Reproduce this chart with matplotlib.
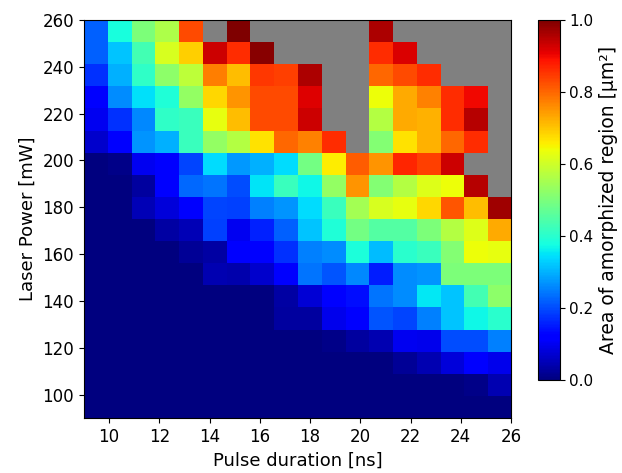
import numpy as np
import matplotlib
matplotlib.use("Agg")
import matplotlib.pyplot as plt

nan = np.nan

# grid extent (pulse duration in ns, laser power in mW)
pulse_range = [9, 26]
power_range = [90, 260]
pulse_ticks = [10, 12, 14, 16, 18, 20, 22, 24, 26]
power_ticks = [100, 120, 140, 160, 180, 200, 220, 240, 260]
cbar_ticks = [0.0, 0.2, 0.4, 0.6, 0.8, 1.0]

# amorphized area [um^2], rows from highest power (top) to lowest, nan = no data
area_rows = [
    [0.22, 0.38, 0.50, 0.56, 0.83, nan, 1.00, nan, nan, nan, nan, nan, 0.96, nan, nan, nan, nan, nan],
    [0.22, 0.32, 0.43, 0.61, 0.69, 0.93, 0.86, 0.99, nan, nan, nan, nan, 0.86, 0.92, nan, nan, nan, nan],
    [0.175, 0.30, 0.41, 0.52, 0.58, 0.775, 0.71, 0.85, 0.84, 0.96, nan, nan, 0.80, 0.83, 0.86, nan, nan, nan],
    [0.12, 0.265, 0.345, 0.39, 0.53, 0.68, 0.75, 0.83, 0.83, 0.915, nan, nan, 0.64, 0.73, 0.77, 0.86, 0.90, nan],
    [0.10, 0.175, 0.26, 0.41, 0.42, 0.63, 0.71, 0.83, 0.83, 0.93, nan, nan, 0.57, 0.73, 0.72, 0.86, 0.95, nan],
    [0.07, 0.12, 0.27, 0.30, 0.42, 0.53, 0.57, 0.67, 0.80, 0.77, 0.86, nan, 0.51, 0.67, 0.72, 0.80, 0.86, nan],
    [0.0, 0.01, 0.10, 0.12, 0.195, 0.34, 0.275, 0.30, 0.34, 0.49, 0.66, 0.81, 0.75, 0.87, 0.84, 0.93, nan, nan],
    [0.0, 0.0, 0.03, 0.12, 0.23, 0.24, 0.20, 0.35, 0.42, 0.37, 0.53, 0.75, 0.51, 0.57, 0.62, 0.64, 0.95, nan],
    [0.0, 0.0, 0.05, 0.08, 0.12, 0.195, 0.19, 0.25, 0.27, 0.34, 0.42, 0.55, 0.61, 0.63, 0.68, 0.82, 0.71, 0.97],
    [0.0, 0.0, 0.0, 0.035, 0.05, 0.19, 0.10, 0.16, 0.22, 0.32, 0.39, 0.49, 0.45, 0.45, 0.50, 0.57, 0.62, 0.73],
    [0.0, 0.0, 0.0, 0.0, 0.02, 0.035, 0.12, 0.12, 0.175, 0.25, 0.265, 0.385, 0.31, 0.40, 0.42, 0.51, 0.64, 0.63],
    [0.0, 0.0, 0.0, 0.0, 0.0, 0.045, 0.04, 0.07, 0.12, 0.24, 0.21, 0.26, 0.155, 0.265, 0.27, 0.50, 0.50, 0.50],
    [0.0, 0.0, 0.0, 0.0, 0.0, 0.0, 0.0, 0.0, 0.035, 0.075, 0.12, 0.14, 0.24, 0.265, 0.355, 0.32, 0.43, 0.52],
    [0.0, 0.0, 0.0, 0.0, 0.0, 0.0, 0.0, 0.0, 0.03, 0.03, 0.095, 0.12, 0.21, 0.195, 0.25, 0.32, 0.37, 0.40],
    [0.0, 0.0, 0.0, 0.0, 0.0, 0.0, 0.0, 0.0, 0.0, 0.0, 0.01, 0.03, 0.045, 0.10, 0.095, 0.20, 0.20, 0.25],
    [0.0, 0.0, 0.0, 0.0, 0.0, 0.0, 0.0, 0.0, 0.0, 0.0, 0.0, 0.0, 0.0, 0.02, 0.045, 0.08, 0.12, 0.095],
    [0.0, 0.0, 0.0, 0.0, 0.0, 0.0, 0.0, 0.0, 0.0, 0.0, 0.0, 0.0, 0.0, 0.0, 0.0, 0.0, 0.01, 0.045],
    [0.0, 0.0, 0.0, 0.0, 0.0, 0.0, 0.0, 0.0, 0.0, 0.0, 0.0, 0.0, 0.0, 0.0, 0.0, 0.0, 0.0, 0.0],
]

fig = plt.figure(figsize=(6.22, 4.73), dpi=100)
ax = fig.add_axes([0.135, 0.1163, 0.6865, 0.8414])
cax = fig.add_axes([0.865, 0.1966, 0.0346, 0.761])

cmap = plt.get_cmap("jet").copy()
cmap.set_bad("gray")

data = np.ma.masked_invalid(np.array(area_rows))
im = ax.imshow(data, cmap=cmap, vmin=0, vmax=1, aspect="auto",
               interpolation="nearest",
               extent=[pulse_range[0], pulse_range[1], power_range[0], power_range[1]])

ax.set_xticks(pulse_ticks)
ax.set_yticks(power_ticks)
ax.tick_params(labelsize=12)
ax.set_xlabel("Pulse duration [ns]", fontsize=13)
ax.set_ylabel("Laser Power [mW]", fontsize=13)

cb = fig.colorbar(im, cax=cax, ticks=cbar_ticks)
cb.ax.tick_params(labelsize=11)
cb.set_label("Area of amorphized region [μm²]", fontsize=13.5)

fig.savefig("out.png", dpi=100)
